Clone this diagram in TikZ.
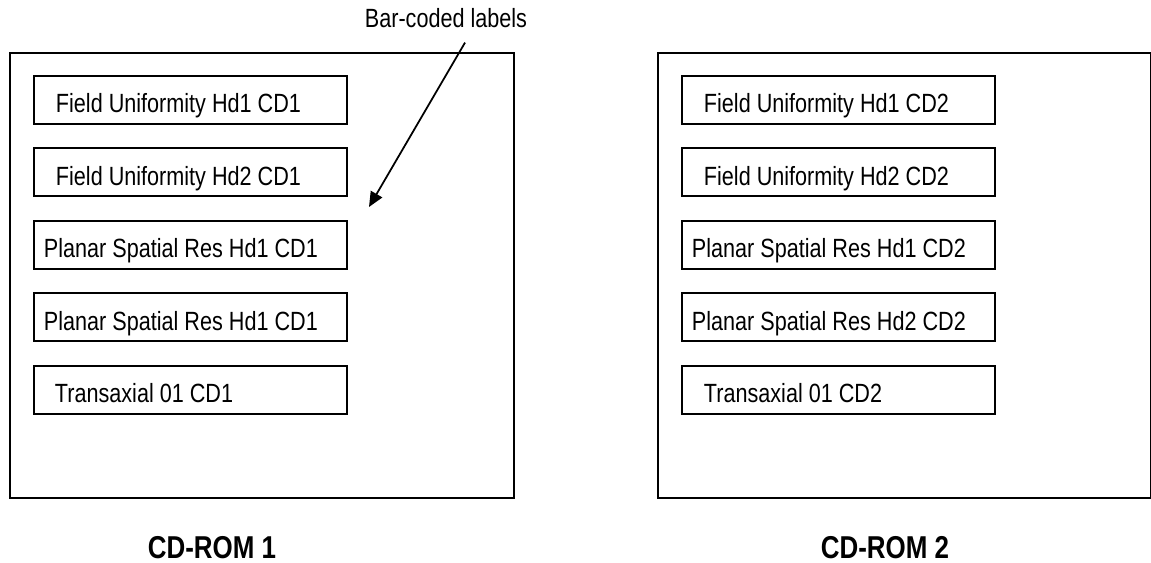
\documentclass[tikz,border=0pt]{standalone}
\usepackage{fontspec}
\setmainfont[FakeStretch=0.82]{Liberation Sans}
\usepackage{tikz}
\usetikzlibrary{arrows.meta,positioning,calc}
\tikzstyle{pointer} = [line width=1pt,-{Triangle[length=0.3cm,width=0.26cm]}]
\tikzstyle{discbox} = [rectangle, draw, line width=1.1pt, anchor=north west, inner sep=0pt]
\tikzstyle{filebox} = [rectangle, draw, line width=1.1pt, minimum width=6.26cm, minimum height=0.96cm, text width=6.26cm, inner sep=0pt, align=flush left, text height=0.72cm, text depth=0.2cm, font=\fontsize{15}{18}\selectfont]
\tikzstyle{romlabel} = [anchor=base, inner sep=0pt, font=\fontsize{18}{21}\selectfont\bfseries]

\begin{document}
\begin{tikzpicture}[x=0.02cm, y=-0.02cm, node distance=0.45cm]
\useasboundingbox (0,0) rectangle (1151,563);
\node[discbox, minimum width=10.08cm, minimum height=8.9cm] (cd1) at (9,52) {};
\node[discbox, minimum width=9.86cm, minimum height=8.9cm] (cd2) at (657,52) {};

\node[filebox, anchor=north west] (f11) at (33,75) {\hspace*{0.44cm}Field Uniformity Hd1 CD1};
\node[filebox, below=of f11] (f12) {\hspace*{0.44cm}Field Uniformity Hd2 CD1};
\node[filebox, below=of f12] (f13) {\hspace*{0.2cm}Planar Spatial Res Hd1 CD1};
\node[filebox, below=of f13] (f14) {\hspace*{0.2cm}Planar Spatial Res Hd1 CD1};
\node[filebox, below=of f14] (f15) {\hspace*{0.42cm}Transaxial 01 CD1};

\node[filebox, anchor=north west] (f21) at (681,75) {\hspace*{0.44cm}Field Uniformity Hd1 CD2};
\node[filebox, below=of f21] (f22) {\hspace*{0.44cm}Field Uniformity Hd2 CD2};
\node[filebox, below=of f22] (f23) {\hspace*{0.2cm}Planar Spatial Res Hd1 CD2};
\node[filebox, below=of f23] (f24) {\hspace*{0.2cm}Planar Spatial Res Hd2 CD2};
\node[filebox, below=of f24] (f25) {\hspace*{0.44cm}Transaxial 01 CD2};

\node[anchor=base, inner sep=0pt, font=\fontsize{15}{18}\selectfont] (barcode) at (446,28) {Bar-coded labels};
\coordinate (tip) at (369,207);
\draw[pointer] ($(barcode.south)+(19,14)$) -- (tip);

\node[romlabel] (rom1) at (212,558) {CD-ROM 1};
\node[romlabel] (rom2) at (885,558) {CD-ROM 2};
\end{tikzpicture}
\end{document}
